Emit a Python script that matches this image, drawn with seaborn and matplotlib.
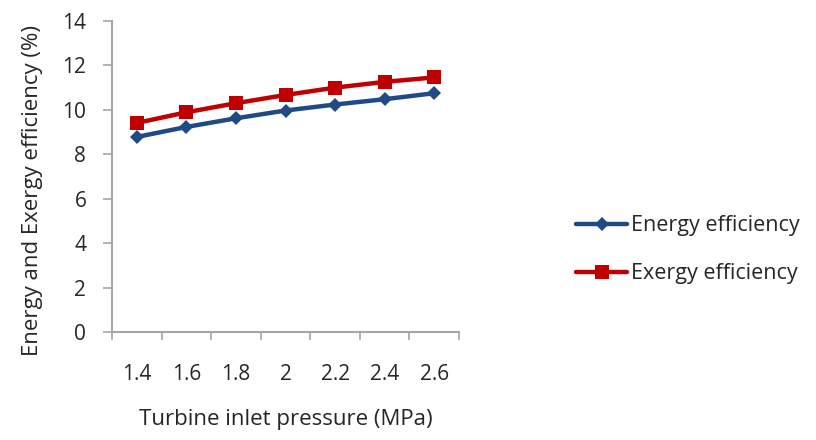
import matplotlib
matplotlib.use("Agg")
import matplotlib.pyplot as plt
from matplotlib.lines import Line2D
import seaborn as sns
import pandas as pd
import numpy as np

pressure = ["1.4", "1.6", "1.8", "2", "2.2", "2.4", "2.6"]
energy_eff = [8.78, 9.23, 9.62, 9.97, 10.24, 10.48, 10.75]
exergy_eff = [9.41, 9.89, 10.30, 10.67, 11.00, 11.26, 11.46]
series_names = ["Energy efficiency", "Exergy efficiency"]
y_ticks = [0, 2, 4, 6, 8, 10, 12, 14]

sns.set_theme(style="white")
plt.rcParams['font.family'] = ['Open Sans', 'DejaVu Sans']

df = pd.DataFrame({
    "Pressure": pressure * 2,
    "Efficiency": energy_eff + exergy_eff,
    "Series": [series_names[0]] * len(pressure) + [series_names[1]] * len(pressure),
})

blue = "#1F4A86"
red = "#C00000"
txt = "#262626"
palette = {series_names[0]: blue, series_names[1]: red}
markers = {series_names[0]: "D", series_names[1]: "s"}

fig = plt.figure(figsize=(8.16, 4.4), dpi=100)
ax = fig.add_axes([112/816, 1-332/440, (459-112)/816, (332-21)/440])

sns.lineplot(data=df, x="Pressure", y="Efficiency", hue="Series", style="Series",
             palette=palette, markers=markers, dashes=False, linewidth=3.2,
             markeredgewidth=0, ax=ax, legend=False, sort=False)
for ln in ax.lines:
    if ln.get_marker() == "D":
        ln.set_markersize(7)
    else:
        ln.set_markersize(10)

ax.set_xlim(-0.5, len(pressure) - 0.5)
ax.set_ylim(0, 14)
ax.set_yticks(y_ticks)
ax.set_yticklabels([str(t) for t in y_ticks], fontsize=15, color=txt)
ax.set_xticks(range(len(pressure)))
ax.set_xticklabels(pressure, fontsize=15, color=txt)
ax.set_xticks(np.arange(-0.5, len(pressure)), minor=True)
ax.tick_params(axis="x", which="major", length=0, pad=23)
ax.tick_params(axis="x", which="minor", length=6, width=1.2, color="#A6A6A6", direction="out", bottom=True)
ax.tick_params(axis="y", which="major", length=6.5, width=1.2, color="#A6A6A6", direction="out", left=True, pad=12)

for s in ["top", "right"]:
    ax.spines[s].set_visible(False)
for s in ["left", "bottom"]:
    ax.spines[s].set_color("#A6A6A6")
    ax.spines[s].set_linewidth(1.5)

ax.set_xlabel("Turbine inlet pressure (MPa)", fontsize=16, color=txt, labelpad=17)
ax.set_ylabel("Energy and Exergy efficiency (%)", fontsize=16, color=txt)
ax.yaxis.set_label_coords(-0.20, 0.455)

handles = [
    Line2D([], [], color=blue, lw=3.2, marker="D", markersize=7, markeredgewidth=0),
    Line2D([], [], color=red, lw=3.2, marker="s", markersize=10, markeredgewidth=0),
]
fig.legend(handles, series_names, loc="upper left", bbox_to_anchor=(557/816, 1-196/440),
           frameon=False, fontsize=15.5, handlelength=2.35, handletextpad=0.17,
           labelspacing=1.25, labelcolor=txt)

fig.savefig("out.png", dpi=100)
